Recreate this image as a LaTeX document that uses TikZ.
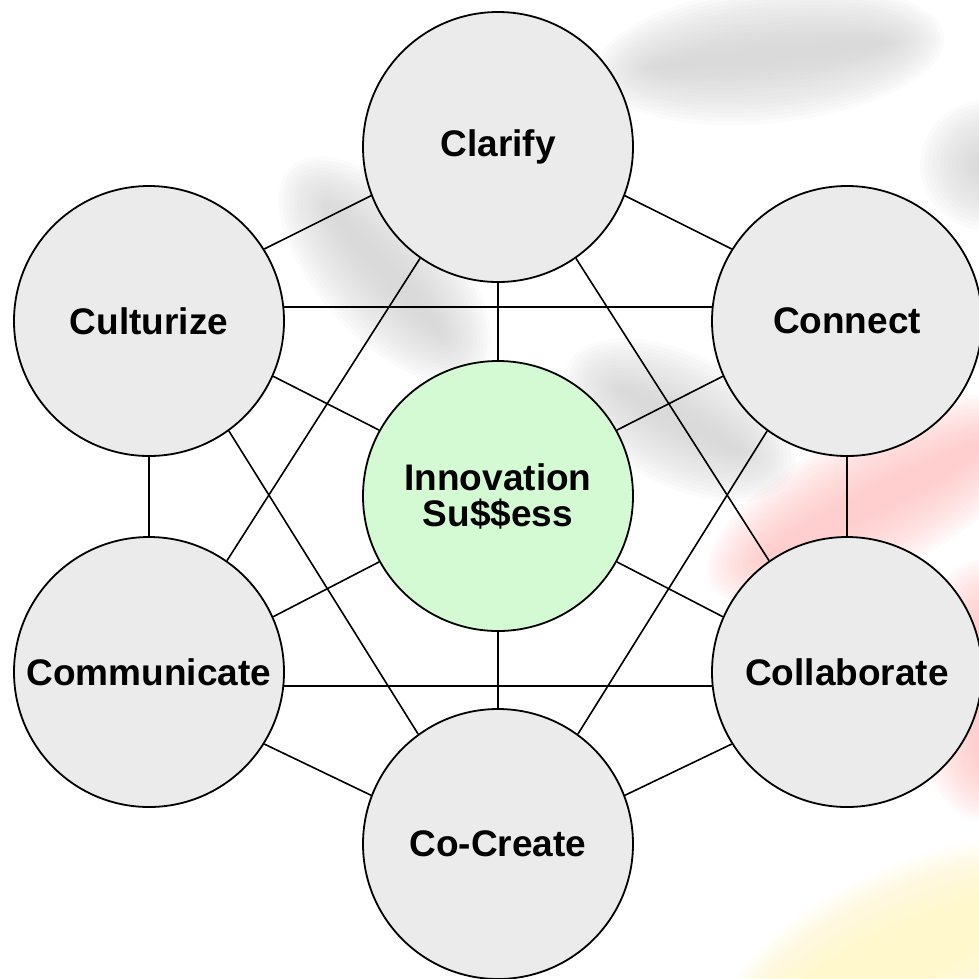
\documentclass[tikz,border=0pt]{standalone}
\usepackage{fontspec}
\setmainfont{Liberation Sans}
\pgfdeclarelayer{bg}
\pgfdeclarelayer{lines}
\pgfsetlayers{bg,lines,main}
\definecolor{ballgray}{HTML}{EBEBEB}
\definecolor{ballgreen}{HTML}{D4FAD4}
\definecolor{blobgray}{HTML}{CFCFCF}
\definecolor{blobred}{HTML}{FFC0C0}
\definecolor{blobyellow}{HTML}{FFF8BC}
\newcommand\softblob[6]{%
  \foreach \k in {0,...,15}{%
    \fill[#1, opacity=0.07, rotate around={#6:(#2,#3)}] (#2,#3) ellipse [x radius={(#4+(15-\k)*4)*1pt}, y radius={(#5+(15-\k)*4)*1pt}];
  }}
\begin{document}
\begin{tikzpicture}[x=1pt,y=-1pt,
  ball/.style={circle, draw=black, line width=1.8pt, fill=ballgray, minimum size=270pt, inner sep=0pt, align=center,
    font=\fontsize{37}{36}\selectfont\bfseries},
  link/.style={line width=1.6pt, draw=black}]
\useasboundingbox (0,0) rectangle (979,978);
\begin{pgfonlayer}{bg}
  \fill[white] (0,0) rectangle (979,978);
  \softblob{blobgray}{770}{55}{115}{8}{6}
  \softblob{blobgray}{385}{270}{80}{8}{-48}
  \softblob{blobgray}{680}{420}{65}{6}{-27}
  \softblob{blobgray}{990}{165}{10}{6}{0}
  \softblob{blobred}{875}{500}{125}{12}{27}
  \softblob{blobred}{980}{690}{6}{70}{0}
  \softblob{blobyellow}{905}{955}{140}{28}{25}
\end{pgfonlayer}
\node[ball] (clarify) at (498,147) {Clarify};
\node[ball] (culturize) at (149,321) {Culturize};
\node[ball] (connect) at (847,321) {Connect};
\node[ball] (communicate) at (149,672) {Communicate};
\node[ball] (collaborate) at (847,672) {Collaborate};
\node[ball] (cocreate) at (498,844) {Co-Create};
\node[ball, fill=ballgreen] (innov) at (498,496) {Innovation\\Su\$\$ess};
\begin{pgfonlayer}{lines}
  \draw[link] (clarify.201) -- (culturize.32);
  \draw[link] (clarify.339) -- (connect.148);
  \draw[link] (clarify.270) -- (innov.90);
  \draw[link] (clarify.235) -- (communicate.55);
  \draw[link] (clarify.305) -- (collaborate.125);
  \draw[link] (culturize.6) -- (connect.174);
  \draw[link] (culturize.336) -- (innov.151);
  \draw[link] (culturize.306) -- (cocreate.126);
  \draw[link] (culturize.270) -- (communicate.90);
  \draw[link] (connect.204) -- (innov.29);
  \draw[link] (connect.234) -- (cocreate.54);
  \draw[link] (connect.270) -- (collaborate.90);
  \draw[link] (communicate.24) -- (innov.209);
  \draw[link] (communicate.354) -- (collaborate.186);
  \draw[link] (communicate.328) -- (cocreate.159);
  \draw[link] (collaborate.156) -- (innov.331);
  \draw[link] (collaborate.212) -- (cocreate.21);
  \draw[link] (innov.270) -- (cocreate.90);
\end{pgfonlayer}
\end{tikzpicture}
\end{document}
